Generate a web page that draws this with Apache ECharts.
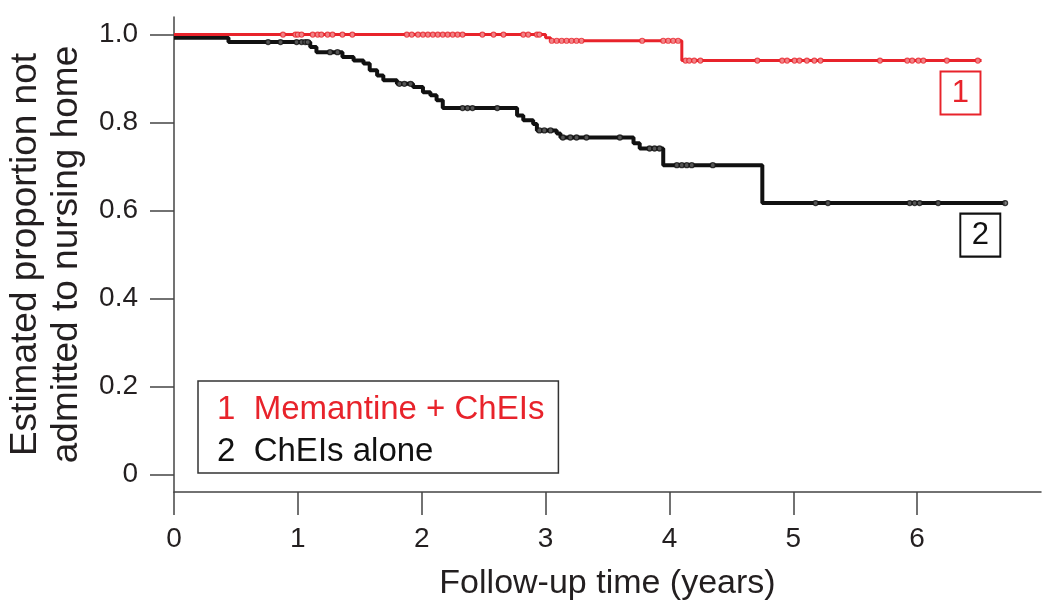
<!DOCTYPE html>
<html>
<head>
<meta charset="utf-8">
<script src="https://cdn.jsdelivr.net/npm/echarts@6/dist/echarts.min.js"></script>
<style>
html,body{margin:0;padding:0;background:#fff;}
#chart{width:1050px;height:610px;}
</style>
</head>
<body>
<div id="chart"></div>
<script>
// ---- Data ----
const seriesNames = ['Memantine + ChEIs', 'ChEIs alone'];
const seriesNumbers = ['1', '2'];
const xTicks = [0, 1, 2, 3, 4, 5, 6];
const yTicks = [0, 0.2, 0.4, 0.6, 0.8, 1.0];
const xTitle = 'Follow-up time (years)';
const yTitle = 'Estimated proportion not\nadmitted to nursing home';

// Kaplan-Meier steps [time (years), survival] for group 1 (Memantine + ChEIs)
const kmMemantine = [
  [0, 1.0], [3.0, 0.993], [3.04, 0.986], [4.10, 0.941], [6.52, 0.941]
];
// censoring marks group 1
const censorMemantine = [
  [0.88,1.0],[0.98,1.0],[1.00,1.0],[1.03,1.0],[1.12,1.0],[1.16,1.0],[1.19,1.0],[1.24,1.0],
  [1.28,1.0],[1.36,1.0],[1.44,1.0],[1.88,1.0],[1.92,1.0],[1.97,1.0],[2.01,1.0],[2.05,1.0],
  [2.09,1.0],[2.13,1.0],[2.17,1.0],[2.21,1.0],[2.25,1.0],[2.29,1.0],[2.33,1.0],[2.49,1.0],
  [2.58,1.0],[2.66,1.0],[2.82,1.0],[2.86,1.0],[2.93,1.0],[2.95,1.0],
  [3.05,0.986],[3.09,0.986],[3.13,0.986],[3.17,0.986],[3.21,0.986],[3.25,0.986],[3.29,0.986],
  [3.78,0.986],[3.95,0.986],[3.99,0.986],[4.03,0.986],[4.07,0.986],
  [4.13,0.941],[4.16,0.941],[4.20,0.941],[4.25,0.941],[4.71,0.941],[4.91,0.941],[4.95,0.941],
  [5.01,0.941],[5.05,0.941],[5.11,0.941],[5.17,0.941],[5.22,0.941],[5.70,0.941],[5.92,0.941],
  [5.96,0.941],[6.01,0.941],[6.05,0.941],[6.24,0.941],[6.49,0.941]
];

// Kaplan-Meier steps group 2 (ChEIs alone)
const kmChEIs = [
  [0, 0.993], [0.44, 0.983], [1.10, 0.972], [1.15, 0.960], [1.36, 0.949], [1.45, 0.941],
  [1.53, 0.934], [1.58, 0.919], [1.64, 0.907], [1.69, 0.896], [1.80, 0.888], [1.93, 0.881],
  [2.01, 0.869], [2.07, 0.862], [2.12, 0.851], [2.17, 0.833], [2.77, 0.816], [2.82, 0.805],
  [2.90, 0.797], [2.93, 0.782], [3.09, 0.775], [3.12, 0.766], [3.71, 0.753], [3.76, 0.741],
  [3.95, 0.703], [4.75, 0.617], [6.71, 0.617]
];
// censoring marks group 2
const censorChEIs = [
  [0.76,0.983],[0.86,0.983],[0.99,0.983],[1.03,0.983],[1.06,0.983],[1.08,0.983],
  [1.26,0.960],[1.32,0.960],[1.82,0.888],[1.86,0.888],[1.91,0.888],
  [2.33,0.833],[2.37,0.833],[2.41,0.833],[2.61,0.833],
  [2.95,0.782],[2.99,0.782],[3.04,0.782],
  [3.14,0.766],[3.20,0.766],[3.25,0.766],[3.33,0.766],[3.60,0.766],
  [3.84,0.741],[3.88,0.741],[3.92,0.741],
  [4.06,0.703],[4.10,0.703],[4.14,0.703],[4.18,0.703],[4.35,0.703],
  [5.18,0.617],[5.28,0.617],[5.94,0.617],[5.98,0.617],[6.02,0.617],[6.17,0.617],[6.71,0.617]
];
// positions of the boxed curve numbers [time, survival]
const boxLabelPos = [[6.35, 0.867], [6.51, 0.544]];

// ---- Styles ----
const RED = '#e8232b';
const BLACK = '#111111';
const TEXT = '#231f20';
const AXIS = '#444444';
const FONT = '"Liberation Sans", Arial, Helvetica, sans-serif';
const colors = [RED, BLACK];
const censorFill = ['#f29a9e', '#666666'];

const chart = echarts.init(document.getElementById('chart'), null, {renderer: 'canvas'});

function boxMark(i) {
  return {
    symbol: 'rect',
    symbolSize: [40, 43],
    silent: true,
    itemStyle: {color: '#fff', borderColor: colors[i], borderWidth: 2},
    label: {show: true, position: 'inside', formatter: seriesNumbers[i], color: colors[i],
            fontSize: 31, fontFamily: FONT},
    data: [{coord: boxLabelPos[i]}]
  };
}

const option = {
  backgroundColor: '#ffffff',
  animation: false,
  textStyle: {fontFamily: FONT},
  grid: {left: 174, top: 17, right: 9, bottom: 118, containLabel: false, outerBoundsMode: 'none'},
  xAxis: {
    type: 'value', min: 0, max: 7,
    name: xTitle, nameLocation: 'middle', nameGap: 74,
    nameTextStyle: {fontSize: 34, lineHeight: 36, color: TEXT, fontFamily: FONT},
    axisLine: {show: true, onZero: false, lineStyle: {color: AXIS, width: 1.5}},
    axisTick: {show: true, inside: false, length: 23, customValues: xTicks, lineStyle: {color: AXIS, width: 1.5}},
    axisLabel: {show: true, customValues: xTicks, margin: 33, fontSize: 28, color: TEXT, fontFamily: FONT},
    splitLine: {show: false}
  },
  yAxis: {
    type: 'value', min: -0.04, max: 1.04,
    name: yTitle, nameLocation: 'middle', nameGap: 87, nameRotate: 90,
    nameTextStyle: {fontSize: 37, color: TEXT, fontFamily: FONT, lineHeight: 41, align: 'center'},
    axisLine: {show: true, onZero: false, lineStyle: {color: AXIS, width: 1.5}},
    axisTick: {show: true, inside: false, length: 24, customValues: yTicks, lineStyle: {color: AXIS, width: 1.5}},
    axisLabel: {show: true, customValues: yTicks, margin: 36, fontSize: 28, color: TEXT, fontFamily: FONT,
                formatter: v => (Math.abs(v) < 1e-9 ? '0' : v.toFixed(1))},
    splitLine: {show: false}
  },
  legend: {
    show: true,
    orient: 'vertical',
    left: 198, top: 381,
    data: seriesNames.map((n, i) => ({name: n, icon: 'none', textStyle: {color: colors[i]}})),
    itemWidth: 0, itemHeight: 10, itemGap: 6,
    padding: [11, 14, 3, 14],
    borderColor: '#333', borderWidth: 1.5,
    backgroundColor: '#fff',
    selectedMode: false,
    formatter: name => seriesNumbers[seriesNames.indexOf(name)] + '  ' + name,
    textStyle: {fontSize: 33, lineHeight: 36, fontFamily: FONT}
  },
  series: [
    {
      name: seriesNames[1], type: 'line', step: 'end', data: kmChEIs,
      showSymbol: false, symbol: 'none',
      lineStyle: {color: BLACK, width: 4}, itemStyle: {color: BLACK},
      z: 2, markPoint: boxMark(1)
    },
    {
      name: seriesNames[1] + ' censored', type: 'scatter', data: censorChEIs,
      symbol: 'circle', symbolSize: 5,
      itemStyle: {color: censorFill[1], borderColor: BLACK, borderWidth: 1.3}, z: 3
    },
    {
      name: seriesNames[0], type: 'line', step: 'end', data: kmMemantine,
      showSymbol: false, symbol: 'none',
      lineStyle: {color: RED, width: 3}, itemStyle: {color: RED},
      z: 4, markPoint: boxMark(0)
    },
    {
      name: seriesNames[0] + ' censored', type: 'scatter', data: censorMemantine,
      symbol: 'circle', symbolSize: 5,
      itemStyle: {color: censorFill[0], borderColor: RED, borderWidth: 1.2}, z: 5
    }
  ]
};
chart.setOption(option);
</script>
</body>
</html>
